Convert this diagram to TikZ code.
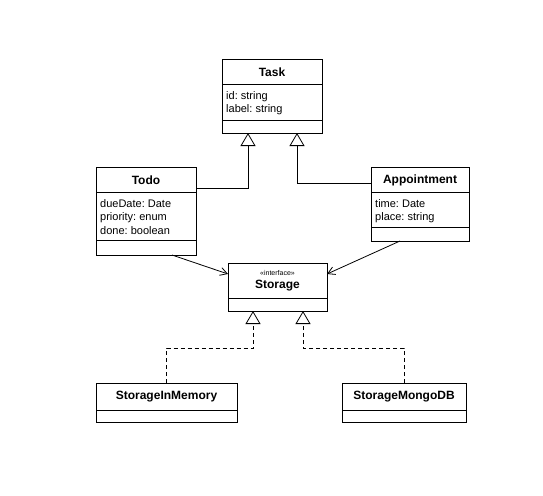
\documentclass[tikz,border=0pt]{standalone}
\usepackage{fontspec}
\setmainfont{Liberation Sans}
\usetikzlibrary{arrows.meta}
\frenchspacing
\begin{document}
\begin{tikzpicture}[x=1pt,y=-1pt,
 box/.style={draw, line width=0.8pt, anchor=north west, inner sep=0pt, outer sep=0pt},
 ctitle/.style={font=\bfseries\fontsize{12}{14}\selectfont, inner sep=0pt},
 attr/.style={font=\frenchspacing\fontsize{11}{13}\selectfont, anchor=base west, inner sep=0pt},
 stereo/.style={font=\fontsize{7}{8}\selectfont, inner sep=0pt},
 sepline/.style={line width=0.8pt},
 inherit/.style={line width=0.8pt, -{Triangle[open, width=15pt, length=13pt]}},
 realize/.style={inherit, dash pattern=on 4pt off 3pt},
 assoc/.style={line width=0.8pt, -{Straight Barb[length=7pt, width=8pt]}}
]
\useasboundingbox (0,0) rectangle (543,495);
% Task
\node[box, minimum width=100pt, minimum height=74pt] (task) at (222,59) {};
\draw[sepline] (task.west |- 0,84) -- (task.east |- 0,84);
\draw[sepline] (task.west |- 0,120) -- (task.east |- 0,120);
\node[ctitle] (taskT) at (272,72) {Task};
\node[attr] (taskA1) at (226,99) {id: string};
\node[attr] (taskA2) at (226,112.5) {label: string};
% Todo
\node[box, minimum width=100pt, minimum height=88pt] (todo) at (96,167) {};
\draw[sepline] (todo.west |- 0,192) -- (todo.east |- 0,192);
\draw[sepline] (todo.west |- 0,240) -- (todo.east |- 0,240);
\node[ctitle] (todoT) at (146,180) {Todo};
\node[attr] (todoA1) at (100,207) {dueDate: Date};
\node[attr] (todoA2) at (100,220.5) {priority: enum};
\node[attr] (todoA3) at (100,234) {done: boolean};
% Appointment
\node[box, minimum width=98pt, minimum height=74pt] (appt) at (371,167) {};
\draw[sepline] (appt.west |- 0,192) -- (appt.east |- 0,192);
\draw[sepline] (appt.west |- 0,227) -- (appt.east |- 0,227);
\node[ctitle] (apptT) at (420,180) {Appointment};
\node[attr] (apptA1) at (375,207) {time: Date};
\node[attr] (apptA2) at (375,220.5) {place: string};
% Storage
\node[box, minimum width=99pt, minimum height=48pt] (storage) at (228,263) {};
\draw[sepline] (storage.west |- 0,298) -- (storage.east |- 0,298);
\node[stereo] (storageS) at (277.5,273) {«interface»};
\node[ctitle] (storageT) at (277.5,286) {Storage};
% StorageInMemory
\node[box, minimum width=141pt, minimum height=39pt] (sim) at (96,383) {};
\draw[sepline] (sim.west |- 0,410) -- (sim.east |- 0,410);
\node[ctitle] (simT) at (166.5,397) {StorageInMemory};
% StorageMongoDB
\node[box, minimum width=124pt, minimum height=39pt] (smdb) at (342,383) {};
\draw[sepline] (smdb.west |- 0,410) -- (smdb.east |- 0,410);
\node[ctitle] (smdbT) at (404,397) {StorageMongoDB};
% Generalisations
\draw[inherit] (todo.east |- 0,188) -| (task.south -| 248,0);
\draw[inherit] (appt.west |- 0,183) -| (task.south -| 297,0);
% Realisations
\draw[realize] (sim.north) |- (253,348) -- (storage.south -| 253,0);
\draw[realize] (smdb.north) |- (303,348) -- (storage.south -| 303,0);
% Associations
\draw[assoc] (todo.south -| 172,0) -- (storage.west |- 0,274);
\draw[assoc] (appt.south -| 400,0) -- (storage.east |- 0,274);
\end{tikzpicture}
\end{document}
